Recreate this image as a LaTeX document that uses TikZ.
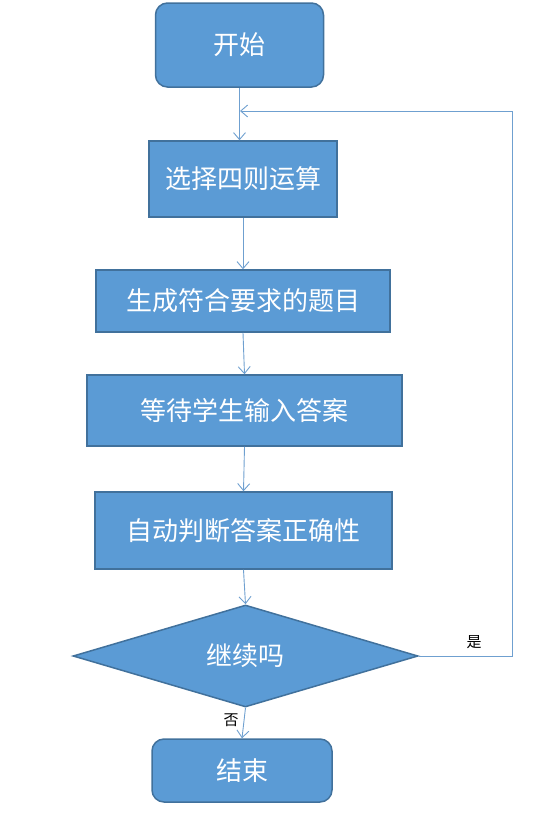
\documentclass[tikz,border=0pt]{standalone}
\usepackage{fontspec}
\setmainfont{Noto Sans CJK SC}
\usetikzlibrary{shapes.geometric,arrows.meta}
\definecolor{boxfill}{HTML}{5B9BD5}
\definecolor{boxline}{HTML}{41719C}
\definecolor{linkline}{HTML}{6FA0D0}
\begin{document}
\begin{tikzpicture}
    [
    x=1pt,y=-1pt,
    box/.style={
      rectangle,
      draw=boxline,
      line width=1.5pt,
      fill=boxfill,
      text=white,
      font=\fontsize{26}{30}\selectfont,
      inner sep=0pt
    },
    terminal/.style={
      box,
      rounded corners=12pt
    },
    decision/.style={
      box,
      diamond
    },
    link/.style={
      draw=linkline,
      line width=0.9pt,
      -{Straight Barb[length=7pt,width=12pt]}
    },
    answer/.style={
      font=\fontsize{15}{17}\selectfont,
      text=black
    }]
    \useasboundingbox (0,0) rectangle (552,823);
    \node (start) at (239.5,45) [terminal, minimum width=168pt, minimum height=84pt] {开始};
    \node (choose) at (243,179) [box, minimum width=188pt, minimum height=76pt] {选择四则运算};
    \node (gen) at (243,301) [box, minimum width=294pt, minimum height=62pt] {生成符合要求的题目};
    \node (wait) at (244.5,410.5) [box, minimum width=315pt, minimum height=71pt] {等待学生输入答案};
    \node (judge) at (243.5,530.5) [box, minimum width=297pt, minimum height=77pt] {自动判断答案正确性};
    \node (cont) at (245.5,656) [decision, minimum width=345pt, minimum height=98pt] {继续吗};
    \node (stop) at (242,770.5) [terminal, minimum width=180pt, minimum height=63pt] {结束};
    % loop back
    \coordinate (loopa) at (512,656);
    \coordinate (loopb) at (512,111);
    \coordinate (join) at (240,111);
    \draw [link] (start.south) -- (start.south |- choose.north);
    \draw [link] (choose.south) -- (gen.north);
    \draw [link] (gen.south) -- (wait.north);
    \draw [link] (wait.south) -- (judge.north);
    \draw [link] (judge.south) -- (cont.north);
    \draw [link] (cont.south) -- (stop.north);
    \draw [link] (cont.east) -- (loopa) -- (loopb) -- (join);
    \node (yes) at (474,642) [answer] {是};
    \node (no) at (231,720) [answer] {否};
  \end{tikzpicture}
\end{document}
